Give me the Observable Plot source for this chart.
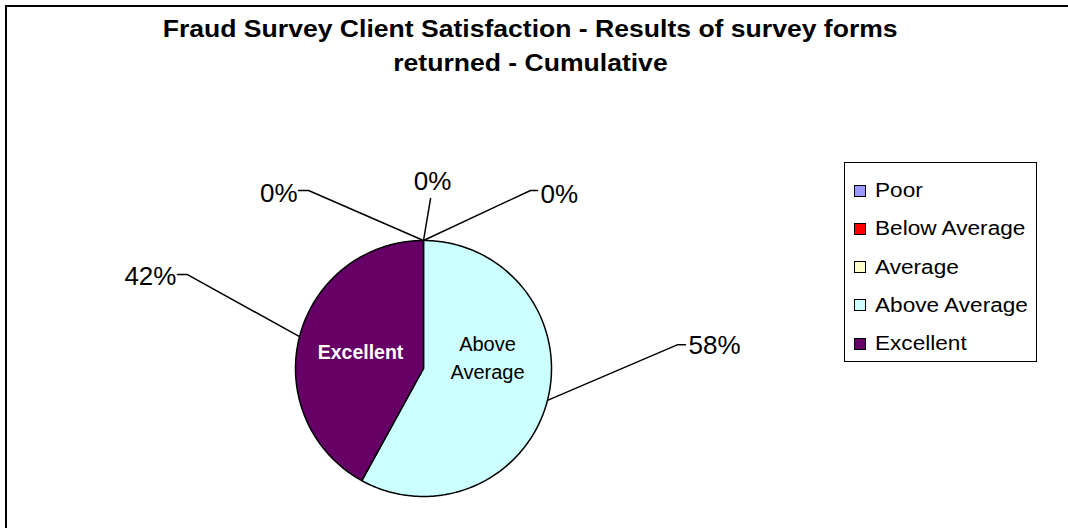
<!DOCTYPE html>
<html><head><meta charset="utf-8">
<script src="https://cdn.jsdelivr.net/npm/d3@7"></script>
<script src="https://cdn.jsdelivr.net/npm/@observablehq/plot@0.6"></script>
<style>
html,body{margin:0;padding:0;background:#fff;}
#chart{position:relative;width:1068px;height:528px;overflow:hidden;font-family:"Liberation Sans",Arial,sans-serif;background:#fff;}
#frame{position:absolute;left:5px;top:5px;width:1200px;height:700px;border:2px solid #000;box-sizing:border-box;pointer-events:none;}
#title{position:absolute;left:0;top:12px;width:1060px;text-align:center;font-weight:bold;font-size:23.5px;line-height:34px;color:#000;}
#title div span{display:inline-block;transform:scaleX(1.13);white-space:nowrap;}
#legend{position:absolute;left:844px;top:162px;width:193px;height:200px;border:1.5px solid #000;box-sizing:border-box;background:#fff;}
.item{position:absolute;left:0;height:24px;display:flex;align-items:center;}
.sw{width:12px;height:12px;box-sizing:border-box;border:1.5px solid #000;margin-left:8.5px;flex:none;}
.lt{margin-left:9px;font-size:20px;color:#000;transform:scaleX(1.13);transform-origin:left center;white-space:nowrap;}
#chart svg{position:absolute;left:0;top:0;background:transparent;}
</style>
</head>
<body>
<div id="chart"></div>
<script>
// ---- data ----
const title = ["Fraud Survey Client Satisfaction - Results of survey forms", "returned - Cumulative"];
const categories = ["Poor", "Below Average", "Average", "Above Average", "Excellent"];
const values = [0, 0, 0, 58, 42];
const percentLabels = ["0%", "0%", "0%", "58%", "42%"];
const sliceNames = ["", "", "", "Above\nAverage", "Excellent"];

// ---- styles / layout ----
const palette = ["#9999FF", "#FF0000", "#FFFFCC", "#CCFFFF", "#660066"];
const cx = 423, cy = 368, r = 128;
const labelLayout = {
  "Poor":          {elbow: [0.836, 1.391], tail: [0.891, 1.391], text: [0.914, 1.359], anchor: "start"},
  "Below Average": {elbow: [0.055, 1.328], tail: null,           text: [0.070, 1.461], anchor: "middle"},
  "Average":       {elbow: [-0.898, 1.391], tail: [-0.977, 1.391], text: [-0.984, 1.363], anchor: "end"},
  "Above Average": {elbow: [1.982, 0.185], tail: [2.047, 0.185], text: [2.07, 0.176], anchor: "start"},
  "Excellent":     {elbow: [-1.844, 0.734], tail: [-1.922, 0.734], text: [-1.93, 0.719], anchor: "end"}
};
const innerLayout = {
  "Above Average": {pos: [0.5, 0.094], fill: "#000", weight: "normal", size: 20},
  "Excellent":     {pos: [-0.492, 0.141], fill: "#fff", weight: "bold", size: 19.5}
};

const rows = categories.map((c, i) => ({category: c, value: values[i], label: percentLabels[i], name: sliceNames[i]}));
const arcs = d3.pie().sort(null).value(d => d.value).startAngle(0).endAngle(2 * Math.PI)(rows);

// slice outlines
const slicePts = [];
arcs.forEach(a => {
  const span = a.endAngle - a.startAngle;
  if (span <= 0) return;
  const n = Math.max(2, Math.ceil(span / (Math.PI / 180)));
  slicePts.push({category: a.data.category, x: 0, y: 0});
  for (let k = 0; k <= n; k++) {
    const t = a.startAngle + span * k / n;
    slicePts.push({category: a.data.category, x: Math.sin(t), y: Math.cos(t)});
  }
});

// leader lines
const leaderPts = [];
const labelPts = [];
arcs.forEach(a => {
  const c = a.data.category;
  const L = labelLayout[c];
  const mid = (a.startAngle + a.endAngle) / 2;
  leaderPts.push({id: c, x: Math.sin(mid), y: Math.cos(mid)});
  leaderPts.push({id: c, x: L.elbow[0], y: L.elbow[1]});
  if (L.tail) leaderPts.push({id: c, x: L.tail[0], y: L.tail[1]});
  labelPts.push({x: L.text[0], y: L.text[1], text: a.data.label, anchor: L.anchor});
});

const innerPts = arcs.filter(a => a.data.value > 0 && innerLayout[a.data.category]).map(a => {
  const I = innerLayout[a.data.category];
  return {x: I.pos[0], y: I.pos[1], text: a.data.name, fill: I.fill, weight: I.weight, size: I.size};
});

const font = '"Liberation Sans", Arial, sans-serif';
const textMarks = ["start", "middle", "end"].map(anc =>
  Plot.text(labelPts.filter(d => d.anchor === anc), {x: "x", y: "y", text: "text", textAnchor: anc,
    fontSize: 26, fill: "#000", fontFamily: font}));
const innerMarks = innerPts.map(d =>
  Plot.text([d], {x: "x", y: "y", text: "text", fill: d.fill, fontWeight: d.weight, fontSize: d.size,
    lineHeight: 1.4, fontFamily: font}));

const svg = Plot.plot({
  width: 1068, height: 528, margin: 0,
  style: {background: "transparent", fontFamily: font},
  x: {domain: [-1, 1], range: [cx - r, cx + r], axis: null},
  y: {domain: [-1, 1], range: [cy + r, cy - r], axis: null},
  color: {domain: categories, range: palette},
  marks: [
    Plot.line(leaderPts, {x: "x", y: "y", z: "id", stroke: "#000", strokeWidth: 1.5}),
    Plot.line(slicePts, {x: "x", y: "y", z: "category", fill: "category", stroke: "#000", strokeWidth: 1.5, curve: "linear-closed"}),
    ...textMarks,
    ...innerMarks
  ]
});

const chart = document.getElementById("chart");
chart.appendChild(svg);

const frame = document.createElement("div");
frame.id = "frame";
chart.appendChild(frame);

const t = document.createElement("div");
t.id = "title";
title.forEach(line => {
  const d = document.createElement("div");
  const s = document.createElement("span");
  s.textContent = line;
  d.appendChild(s);
  t.appendChild(d);
});
chart.appendChild(t);

const lg = document.createElement("div");
lg.id = "legend";
categories.forEach((c, i) => {
  const it = document.createElement("div");
  it.className = "item";
  it.style.top = (191 + 38.25 * i - 162 - 1.5 - 12) + "px";
  const sw = document.createElement("div");
  sw.className = "sw";
  sw.style.background = palette[i];
  const lt = document.createElement("span");
  lt.className = "lt";
  lt.textContent = c;
  it.appendChild(sw);
  it.appendChild(lt);
  lg.appendChild(it);
});
chart.appendChild(lg);
</script>
</body></html>
